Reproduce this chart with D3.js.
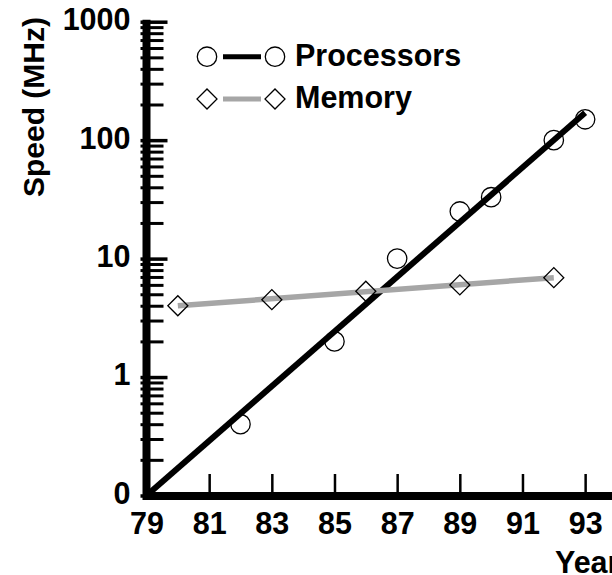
<!DOCTYPE html>
<html>
<head>
<meta charset="utf-8">
<script src="https://cdn.jsdelivr.net/npm/d3@7"></script>
<style>
  html, body { margin: 0; padding: 0; background: #fff; }
  svg { display: block; }
  text { font-family: "Liberation Sans", Arial, sans-serif; font-weight: bold; fill: #000; }
</style>
</head>
<body>
<svg id="chart" width="612" height="575"></svg>
<script>
// ---- data ----
const xTickValues = [79, 81, 83, 85, 87, 89, 91, 93];
const yMajorTicks = [0.1, 1, 10, 100, 1000];
const yMajorLabels = ["0", "1", "10", "100", "1000"];
const processorYears = [82, 85, 87, 89, 90, 92, 93];
const processorSpeeds = [0.4, 2, 10, 25, 33, 100, 150];
const processorTrendYears = [79, 93];
const processorTrendSpeeds = [0.1, 170];
const memoryYears = [80, 83, 86, 89, 92];
const memorySpeeds = [4, 4.5, 5.3, 6, 6.9];
const memoryTrendYears = [80, 92];
const memoryTrendSpeeds = [4, 6.9];
const legendNames = ["Processors", "Memory"];
const seriesColors = ["#000000", "#a6a6a6"];

const FS = 30.5;

// ---- scales ----
const svg = d3.select("#chart");
const x = d3.scaleLinear().domain([79, 95]).range([146.5, 647.8]);
const y = d3.scaleLog().domain([0.1, 1000]).range([495.5, 21.7]);

// minor ticks on log axis
const yMinorTicks = [];
for (let d = 0; d < 4; d++) {
  const base = yMajorTicks[d];
  for (let m = 2; m <= 9; m++) yMinorTicks.push(base * m);
}

// ---- y minor ticks ----
const yMinorAxis = d3.axisLeft(y).tickValues(yMinorTicks).tickSizeInner(-17).tickSizeOuter(0).tickFormat("");
const gMinor = svg.append("g").attr("transform", "translate(146.5,0)").call(yMinorAxis);
gMinor.select(".domain").remove();
gMinor.selectAll(".tick line").attr("x1", -6).attr("stroke", "#000").attr("stroke-width", 3);

// ---- y major axis ----
const yAxis = d3.axisLeft(y).tickValues(yMajorTicks).tickSizeInner(-21).tickSizeOuter(0)
  .tickPadding(16).tickFormat((d, i) => yMajorLabels[i]);
const gY = svg.append("g").attr("transform", "translate(146.5,0)").call(yAxis);
gY.select(".domain").remove();
gY.selectAll(".tick line").attr("x1", -6).attr("stroke", "#000").attr("stroke-width", 3.5);
gY.selectAll(".tick text").attr("font-size", FS).attr("dy", "0.26em")
  .style("font-family", '"Liberation Sans", Arial, sans-serif').style("font-weight", "bold");

// ---- x axis ----
const xAxis = d3.axisBottom(x).tickValues(xTickValues).tickSizeInner(-22).tickSizeOuter(0)
  .tickPadding(16).tickFormat(d => String(d));
const gX = svg.append("g").attr("transform", "translate(0,496)").call(xAxis);
gX.select(".domain").remove();
gX.selectAll(".tick line").attr("y1", 4).attr("stroke", "#000").attr("stroke-width", 2.5);
gX.selectAll(".tick text").attr("font-size", FS)
  .style("font-family", '"Liberation Sans", Arial, sans-serif').style("font-weight", "bold");

// axis spines (thick)
svg.append("line").attr("x1", x(79)).attr("x2", 612).attr("y1", 496).attr("y2", 496)
  .attr("stroke", "#000").attr("stroke-width", 8);
svg.append("line").attr("x1", 146.5).attr("x2", 146.5).attr("y1", y(1000) - 2).attr("y2", 500)
  .attr("stroke", "#000").attr("stroke-width", 8);

// axis titles
svg.append("text").attr("transform", "translate(44,107) rotate(-90)")
  .attr("text-anchor", "middle").attr("font-size", 30).text("Speed (MHz)");
svg.append("text").attr("x", 555).attr("y", 573).attr("font-size", FS).text("Year");

// ---- trend lines ----
const line = d3.line().x(d => x(d[0])).y(d => y(d[1]));
svg.append("path").datum(processorTrendYears.map((t, i) => [t, processorTrendSpeeds[i]]))
  .attr("d", line).attr("fill", "none").attr("stroke", seriesColors[0]).attr("stroke-width", 6);
svg.append("path").datum(memoryTrendYears.map((t, i) => [t, memoryTrendSpeeds[i]]))
  .attr("d", line).attr("fill", "none").attr("stroke", seriesColors[1]).attr("stroke-width", 5.5);

// ---- markers ----
const circ = d3.symbol().type(d3.symbolCircle).size(Math.PI * 9.7 * 9.7);
const diam = d3.symbol().type(d3.symbolSquare).size(2 * 10 * 10);
svg.append("g").selectAll("path").data(processorYears.map((t, i) => [t, processorSpeeds[i]]))
  .join("path").attr("d", circ)
  .attr("transform", d => `translate(${x(d[0])},${y(d[1])})`)
  .attr("fill", "none").attr("stroke", "#000").attr("stroke-width", 1.3);
svg.append("g").selectAll("path").data(memoryYears.map((t, i) => [t, memorySpeeds[i]]))
  .join("path").attr("d", diam)
  .attr("transform", d => `translate(${x(d[0])},${y(d[1])}) rotate(45)`)
  .attr("fill", "none").attr("stroke", "#000").attr("stroke-width", 1.3);

// ---- legend ----
const legendRows = [56.7, 99];
const legendShapes = [circ, diam];
const legendRot = [0, 45];
legendNames.forEach((name, i) => {
  const g = svg.append("g").attr("transform", `translate(0,${legendRows[i]})`);
  g.append("line").attr("x1", 223).attr("x2", 261).attr("y1", 0).attr("y2", 0)
    .attr("stroke", seriesColors[i]).attr("stroke-width", 5);
  [207, 275].forEach(cx => {
    g.append("path").attr("d", legendShapes[i])
      .attr("transform", `translate(${cx},0) rotate(${legendRot[i]})`)
      .attr("fill", "none").attr("stroke", "#000").attr("stroke-width", 1.3);
  });
  g.append("text").attr("x", 295).attr("y", 9).attr("font-size", FS).text(name);
});
</script>
</body>
</html>
